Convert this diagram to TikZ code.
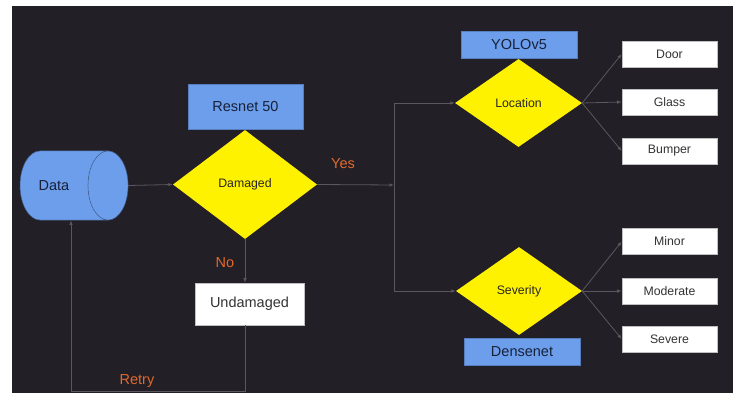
\documentclass[tikz,border=0pt]{standalone}
\usepackage{fontspec}
\setmainfont{Liberation Sans}
\usetikzlibrary{arrows.meta,shapes.geometric}
\definecolor{bgdark}{HTML}{231F26}
\definecolor{modelblue}{HTML}{6D9EEB}
\definecolor{labelorange}{HTML}{E2692C}
\definecolor{linkgray}{HTML}{5A5760}
\definecolor{inkblue}{HTML}{17213A}

\begin{document}
\begin{tikzpicture}[x=1pt,y=-1pt,
  font=\fontsize{14.5}{17}\selectfont,
  model/.style={fill=modelblue,draw=modelblue!80!black,line width=0.4pt,
    text=inkblue,inner sep=0pt,minimum width=116pt,minimum height=27pt},
  decision/.style={diamond,fill=yellow,inner sep=0pt,text=black!85,
    font=\fontsize{12.3}{14}\selectfont},
  result/.style={fill=white,draw=black!25,line width=0.6pt,text=black!80,
    inner sep=0pt,minimum width=95pt,minimum height=26pt,
    font=\fontsize{12.3}{14}\selectfont},
  link/.style={draw=linkgray,line width=0.8pt},
  flow/.style={link,-{Latex[length=4.5pt,width=3.5pt]}},
  answer/.style={text=labelorange,inner sep=1pt}]
\useasboundingbox (0,0) rectangle (738,393);
\fill[bgdark] (12,6) rectangle (733,393);

\node[cylinder,aspect=0.58,cylinder uses custom fill,
  cylinder body fill=modelblue,cylinder end fill=modelblue,
  draw=modelblue!60!black,line width=0.5pt,text=inkblue,
  minimum height=108pt,inner xsep=0pt,inner ysep=29.5pt] (data) at (54,185.5) {Data};
\node[decision,minimum width=144pt,minimum height=109pt] (damaged) at (245,184.5) {Damaged};
\node[model,minimum width=115pt,minimum height=45pt] (resnet) at (245.5,106.5) {Resnet 50};
\node[result,minimum width=109pt,minimum height=42pt,
  font=\fontsize{14.5}{17}\selectfont] (undamaged) at (249.5,304) {Undamaged};

\node[decision,minimum width=127pt,minimum height=88pt] (location) at (518.5,103) {Location};
\node[model] (yolo) at (519,44.5) {YOLOv5};
\node[decision,minimum width=126pt,minimum height=88pt] (severity) at (519,291) {Severity};
\node[model] (densenet) at (522,351.5) {Densenet};

\node[result] (door) at (669.5,54) {Door};
\node[result] (glass) at (669.5,102) {Glass};
\node[result] (bumper) at (669.5,151) {Bumper};
\node[result] (minor) at (669.5,241.5) {Minor};
\node[result] (moderate) at (669.5,291) {Moderate};
\node[result] (severe) at (669.5,339) {Severe};

\coordinate (split) at (394,185);
\coordinate (retry_corner) at (245,391);
\coordinate (retry_up) at (71,391);

\draw[flow] (data.east)--(damaged.west);
\draw[flow] (damaged.east)--(split);
\node[answer] (yes) at (343,164) {Yes};
\draw[link] (split |- location.west)--(split |- severity.west);
\draw[flow] (split |- location.west)--(location.west);
\draw[flow] (split |- severity.west)--(severity.west);

\draw[flow] (location.east)--(door.west);
\draw[flow] (location.east)--(glass.west);
\draw[flow] (location.east)--(bumper.west);
\draw[flow] (severity.east)--(minor.west);
\draw[flow] (severity.east)--(moderate.west);
\draw[flow] (severity.east)--(severe.west);

\draw[flow] (damaged.south)--(damaged.south |- undamaged.north);
\node[answer] (no) at (225,263) {No};
\draw[flow] (retry_corner |- undamaged.south)--(retry_corner)
  --(retry_up)--(retry_up |- data.south);
\node[answer] (retry) at (137,381) {Retry};
\end{tikzpicture}
\end{document}
